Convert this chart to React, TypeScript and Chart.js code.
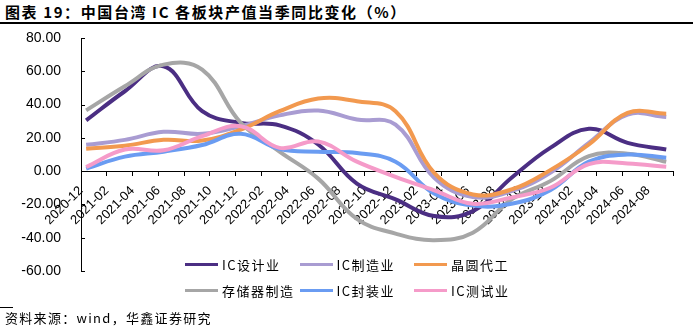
import React, { useEffect, useRef } from 'react';
import { Chart, registerables } from 'chart.js';

Chart.register(...registerables);

// ---- data ----
const quarters = [
  '2020-12', '2021-03', '2021-06', '2021-09', '2021-12', '2022-03', '2022-06', '2022-09',
  '2022-12', '2023-03', '2023-06', '2023-09', '2023-12', '2024-03', '2024-06', '2024-09',
];
const tickLabels = [
  '2020-12', '2021-02', '2021-04', '2021-06', '2021-08', '2021-10', '2021-12',
  '2022-02', '2022-04', '2022-06', '2022-08', '2022-10', '2022-12',
  '2023-02', '2023-04', '2023-06', '2023-08', '2023-10', '2023-12',
  '2024-02', '2024-04', '2024-06', '2024-08',
];
const seriesNames = ['IC设计业', 'IC制造业', '晶圆代工', '存储器制造', 'IC封装业', 'IC测试业'];
const icDesign = [30.5, 48, 63, 36, 29, 27.5, 16, -7.5, -17, -27, -24, -4, 14, 25.5, 17, 13];
const icManufacturing = [15.8, 18.8, 23.6, 22.4, 27, 33.5, 36.4, 31, 28, -4, -15.5, -12, -1, 17, 34, 32.5];
const foundry = [13.5, 15.3, 18.8, 18.4, 25, 36, 43.6, 42, 36, -1, -14, -11, 0.6, 16, 35, 34.5];
const memory = [36.5, 51, 64, 61, 29, 11.7, -4.5, -28.7, -37.5, -41.5, -37, -17, -6, 9, 10.5, 5.6];
const packaging = [1.5, 8.7, 11.7, 15.7, 22.4, 13.3, 11.7, 10.9, 5.7, -13.5, -20.7, -19.6, -11.5, 5.7, 10, 8];
const testing = [2.5, 13, 12.5, 21, 27, 14, 17.8, 5.7, -3.4, -11.5, -19.6, -15.8, -10, 4.2, 4.6, 2.6];
const seriesValues = [icDesign, icManufacturing, foundry, memory, packaging, testing];
const yMin = -60;
const yMax = 80;
const yStep = 20;

// ---- styles ----
const colors = ['#4b2e83', '#a99cd2', '#f2994f', '#a6a6a6', '#6a9cf2', '#f59bc9'];
const POINT_SHIFT = 0.4;
const BASE = '2020-12';

function monthIndex(label: string): number {
  const [y, m] = label.split('-').map(Number);
  const [by, bm] = BASE.split('-').map(Number);
  return (y - by) * 12 + (m - bm);
}

const CJK = '"Noto Sans CJK SC", "Noto Sans", sans-serif';
const LATIN = '"Liberation Sans", Arial, sans-serif';

const yInwardTicks = {
  id: 'yInwardTicks',
  afterDatasetsDraw(chart: any) {
    const ys = chart.scales.y;
    const ctx = chart.ctx;
    ctx.save();
    ctx.strokeStyle = '#000';
    ctx.lineWidth = 1;
    ys.ticks.forEach((_t: any, i: number) => {
      const py = Math.round(ys.getPixelForTick(i)) + 0.5;
      ctx.beginPath();
      ctx.moveTo(ys.right, py);
      ctx.lineTo(ys.right + 4, py);
      ctx.stroke();
    });
    ctx.restore();
  },
};

function ChartCanvas() {
  const ref = useRef<HTMLCanvasElement | null>(null);
  useEffect(() => {
    if (!ref.current) return;
    const lastTick = monthIndex(tickLabels[tickLabels.length - 1]) + 2;
    const chart = new Chart(ref.current, {
      type: 'line',
      data: {
        datasets: seriesNames.map((name, i) => ({
          label: name,
          data: quarters.map((q, k) => ({ x: monthIndex(q) + POINT_SHIFT, y: seriesValues[i][k] })),
          borderColor: colors[i],
          backgroundColor: colors[i],
          borderWidth: 4,
          pointRadius: 0,
          tension: 0.4,
          fill: false,
          order: seriesNames.length - i,
        })),
      },
      options: {
        animation: false,
        responsive: false,
        maintainAspectRatio: false,
        layout: { padding: { top: 38, left: 0, right: 15, bottom: 56 } },
        plugins: { legend: { display: false }, tooltip: { enabled: false } },
        scales: {
          x: {
            type: 'linear',
            min: 0,
            max: lastTick,
            position: { y: 0 } as any,
            afterFit: (s: any) => { s.height = 0; },
            grid: { drawOnChartArea: false, drawTicks: true, tickLength: 4, color: '#000' },
            border: { color: '#000', width: 1 },
            ticks: {
              stepSize: 2,
              autoSkip: false,
              maxRotation: 45,
              minRotation: 45,
              padding: 8,
              color: '#000',
              font: { family: LATIN, size: 13 },
              callback: (v: any) => {
                const idx = Math.round(Number(v) / 2);
                return tickLabels[idx] ?? '';
              },
            },
          },
          y: {
            min: yMin,
            max: yMax,
            afterFit: (s: any) => { s.width = 81; },
            grid: { drawOnChartArea: false, drawTicks: false },
            border: { color: '#000', width: 1 },
            ticks: {
              stepSize: yStep,
              padding: 20,
              color: '#000',
              font: { family: LATIN, size: 14 },
              callback: (v: any) => Number(v).toFixed(2),
            },
          },
        },
      },
      plugins: [yInwardTicks],
    });
    return () => chart.destroy();
  }, []);
  return (
    <canvas
      ref={ref}
      width={693}
      height={327}
      style={{ position: 'absolute', left: 0, top: 0, width: 693, height: 327 }}
    />
  );
}

export default function App() {
  return (
    <div style={{ position: 'absolute', left: 0, top: 0, width: 693, height: 327, background: '#fff', overflow: 'hidden' }}>
      <div style={{ position: 'absolute', left: 5, top: 3, fontFamily: CJK, fontWeight: 700, fontSize: 15, lineHeight: '18px', letterSpacing: 1.6, color: '#000', whiteSpace: 'nowrap' }}>
        图表 19：中国台湾 IC 各板块产值当季同比变化（%）
      </div>
      <div style={{ position: 'absolute', left: 0, top: 22, width: 693, height: 2, background: '#000' }} />
      <ChartCanvas />
      {seriesNames.map((name, i) => {
        const col = i % 3;
        const row = Math.floor(i / 3);
        return (
          <div key={name} style={{ position: 'absolute', left: 185 + col * 114.5, top: 255 + row * 26, height: 18, display: 'flex', alignItems: 'center', whiteSpace: 'nowrap' }}>
            <div style={{ width: 33, height: 3, background: colors[i], marginRight: 4 }} />
            <span style={{ fontFamily: CJK, fontSize: 13, letterSpacing: 1.5, color: '#000' }}>{name}</span>
          </div>
        );
      })}
      <div style={{ position: 'absolute', left: 0, top: 307, width: 13, height: 1, background: '#000' }} />
      <div style={{ position: 'absolute', left: 5, top: 309, fontFamily: CJK, fontSize: 13, lineHeight: '17px', letterSpacing: 1.3, color: '#000', whiteSpace: 'nowrap' }}>
        资料来源：wind，华鑫证券研究
      </div>
    </div>
  );
}
